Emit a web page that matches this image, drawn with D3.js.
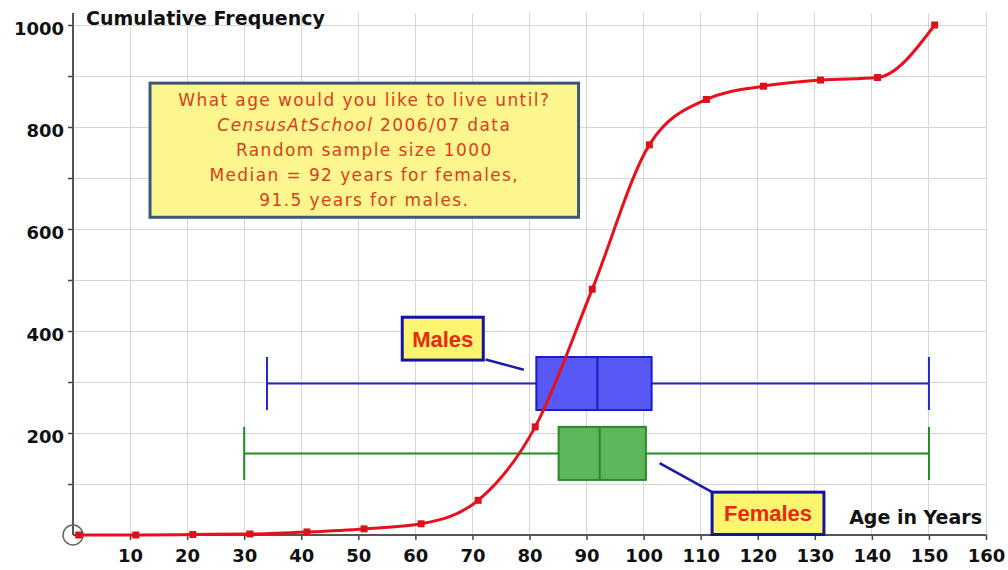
<!doctype html>
<html>
  <meta charset="utf-8">
  <head>
    <script src="https://cdn.jsdelivr.net/npm/d3@7"></script>
    <style type='text/css'>
      body{ margin:0; background:#fff; }
      line.grid{
        stroke: #d6d6d6;
        stroke-width: 1px;
        shape-rendering: crispEdges;
      }
      g.tick line{
        stroke: #444;
        stroke-width: 1.5px;
      }
      g.tick text{
        font-family: 'DejaVu Sans', sans-serif;
        font-weight: bold;
        font-size: 18px;
        fill: #111;
      }
      path.domain{ display:none; }
      line.axis{
        stroke: #555;
        stroke-width: 2px;
      }
      .title{
        font-family: 'DejaVu Sans', sans-serif;
        font-weight: bold;
        font-size: 19px;
        fill: #111;
      }
      .info{
        font-family: 'DejaVu Sans', sans-serif;
        font-size: 17px;
        letter-spacing: 1.4px;
        fill: #d8401c;
      }
      .tag{
        font-family: 'Liberation Sans', Arial, sans-serif;
        font-weight: bold;
        font-size: 22px;
        fill: #e82a10;
      }
    </style>
  </head>
  <body>
    <svg id='ogive'></svg>
    <script type='text/javascript'>
      // cumulative frequency curve (age upper bound, cumulative count)
      var ages = [1, 11, 21, 31, 41, 51, 61, 71, 81, 91, 101, 111, 121, 131, 141, 151];
      var cumFreq = [0, 0, 1, 2, 6, 12, 22, 68, 212, 482, 765, 854, 880, 892, 897, 1000];

      // box plots
      var groups = ['Males', 'Females'];
      var boxMin = [34, 30];
      var boxQ1 = [81.2, 85.1];
      var boxMedian = [91.9, 92.3];
      var boxQ3 = [101.4, 100.4];
      var boxMax = [150, 150];

      var xTicks = [10, 20, 30, 40, 50, 60, 70, 80, 90, 100, 110, 120, 130, 140, 150, 160];
      var yTicks = [100, 200, 300, 400, 500, 600, 700, 800, 900, 1000];

      var infoLines = [
        ['What age would you like to live until?'],
        ['CensusAtSchool', ' 2006/07 data'],
        ['Random sample size 1000'],
        ['Median = 92 years for females,'],
        ['91.5 years for males.']
      ];

      var w = 1008;
      var h = 570;
      var svg = d3.select('svg').attr('width', w).attr('height', h);

      var xScale = d3.scaleLinear().domain([0, 160]).range([73, 986]);
      var yScale = d3.scaleLinear().domain([0, 1000]).range([535, 25]);
      var yTop = 13;

      // grid
      svg.selectAll('line.vgrid').data(xTicks).enter()
        .append('line').attr('class', 'grid')
        .attr('x1', (d) => xScale(d)).attr('x2', (d) => xScale(d))
        .attr('y1', yScale(0)).attr('y2', yTop);
      svg.selectAll('line.hgrid').data(yTicks).enter()
        .append('line').attr('class', 'grid')
        .attr('x1', xScale(0)).attr('x2', xScale(160))
        .attr('y1', (d) => yScale(d)).attr('y2', (d) => yScale(d));

      // axes
      var xAxis = d3.axisBottom(xScale).tickValues(xTicks).tickSize(5).tickPadding(9);
      var yAxis = d3.axisLeft(yScale).tickValues(yTicks).tickSize(5).tickPadding(4)
        .tickFormat((d) => d % 200 == 0 ? d : '');
      svg.append('g').attr('transform', 'translate(0,' + yScale(0) + ')').call(xAxis);
      svg.append('g').attr('transform', 'translate(' + xScale(0) + ',0)').call(yAxis)
        .selectAll('text').attr('dy', '0.55em');
      svg.append('line').attr('class', 'axis')
        .attr('x1', xScale(0)).attr('x2', xScale(160))
        .attr('y1', yScale(0)).attr('y2', yScale(0));
      svg.append('line').attr('class', 'axis')
        .attr('x1', xScale(0)).attr('x2', xScale(0))
        .attr('y1', yScale(0)).attr('y2', yTop);
      svg.append('circle')
        .attr('cx', xScale(0)).attr('cy', yScale(0)).attr('r', 10)
        .style('fill', 'none').style('stroke', '#666').style('stroke-width', 1.5);

      svg.append('text').attr('class', 'title')
        .attr('x', 86).attr('y', 25).text('Cumulative Frequency');
      svg.append('text').attr('class', 'title')
        .attr('x', 982).attr('y', 524).attr('text-anchor', 'end').text('Age in Years');

      // info box
      var ib = {x0: 13.5, x1: 88.6, y0: 886, y1: 623};
      svg.append('rect')
        .attr('x', xScale(ib.x0)).attr('y', yScale(ib.y0))
        .attr('width', xScale(ib.x1) - xScale(ib.x0))
        .attr('height', yScale(ib.y1) - yScale(ib.y0))
        .style('fill', '#fdf68e').style('stroke', '#3c5878').style('stroke-width', 3);
      var cx = (xScale(ib.x0) + xScale(ib.x1)) / 2;
      infoLines.forEach((parts, i) => {
        var t = svg.append('text').attr('class', 'info')
          .attr('x', cx).attr('y', yScale(ib.y0) + 23 + i * 25)
          .attr('text-anchor', 'middle');
        parts.forEach((p, j) => {
          var s = t.append('tspan').text(p);
          if (parts.length > 1 && j == 0) s.style('font-style', 'italic');
        });
      });

      // box plots
      var rowY = [297, 160];
      var half = 52;
      var boxStyle = [
        {fill: '#5858f4', stroke: '#1c1cc8', line: '#2626d0'},
        {fill: '#5cb65c', stroke: '#2a8a2a', line: '#228a22'}
      ];
      groups.forEach((g, i) => {
        var st = boxStyle[i];
        var cy = yScale(rowY[i]);
        var top = yScale(rowY[i] + half), bot = yScale(rowY[i] - half);
        var bg = svg.append('g').attr('class', 'box');
        bg.append('line')
          .attr('x1', xScale(boxMin[i])).attr('x2', xScale(boxMax[i]))
          .attr('y1', cy).attr('y2', cy)
          .style('stroke', st.line).style('stroke-width', 2);
        [boxMin[i], boxMax[i]].forEach((v) => {
          bg.append('line')
            .attr('x1', xScale(v)).attr('x2', xScale(v))
            .attr('y1', top).attr('y2', bot)
            .style('stroke', st.line).style('stroke-width', 2);
        });
        bg.append('rect')
          .attr('x', xScale(boxQ1[i])).attr('y', top)
          .attr('width', xScale(boxQ3[i]) - xScale(boxQ1[i]))
          .attr('height', bot - top)
          .style('fill', st.fill).style('stroke', st.stroke).style('stroke-width', 2);
        bg.append('line')
          .attr('x1', xScale(boxMedian[i])).attr('x2', xScale(boxMedian[i]))
          .attr('y1', top).attr('y2', bot)
          .style('stroke', st.stroke).style('stroke-width', 2);
      });

      // curve
      var pts = ages.map((a, i) => [a, cumFreq[i]]);
      var line = d3.line()
        .x((d) => xScale(d[0])).y((d) => yScale(d[1]))
        .curve(d3.curveMonotoneX);
      svg.append('path').attr('d', line(pts))
        .style('fill', 'none').style('stroke', '#e8101c').style('stroke-width', 3);
      svg.selectAll('rect.pt').data(pts).enter()
        .append('rect').attr('class', 'pt')
        .attr('x', (d) => xScale(d[0]) - 3.5).attr('y', (d) => yScale(d[1]) - 3.5)
        .attr('width', 7).attr('height', 7)
        .style('fill', '#e0101a');

      // labels with pointers
      var tags = [
        {text: 'Males', x0: 57.7, x1: 71.9, y0: 427, y1: 343, px: 72.3, py: 344, tx: 79, ty: 324},
        {text: 'Females', x0: 112, x1: 131.6, y0: 84, y1: 1, px: 112, py: 84, tx: 102.8, ty: 141}
      ];
      tags.forEach((t) => {
        svg.append('line')
          .attr('x1', xScale(t.px)).attr('y1', yScale(t.py))
          .attr('x2', xScale(t.tx)).attr('y2', yScale(t.ty))
          .style('stroke', '#1a1aa8').style('stroke-width', 2.5);
        svg.append('rect')
          .attr('x', xScale(t.x0)).attr('y', yScale(t.y0))
          .attr('width', xScale(t.x1) - xScale(t.x0))
          .attr('height', yScale(t.y1) - yScale(t.y0))
          .style('fill', '#fdf570').style('stroke', '#1414a0').style('stroke-width', 3);
        svg.append('text').attr('class', 'tag')
          .attr('x', (xScale(t.x0) + xScale(t.x1)) / 2)
          .attr('y', (yScale(t.y0) + yScale(t.y1)) / 2 + 8)
          .attr('text-anchor', 'middle').text(t.text);
      });
    </script>
  </body>
</html>
